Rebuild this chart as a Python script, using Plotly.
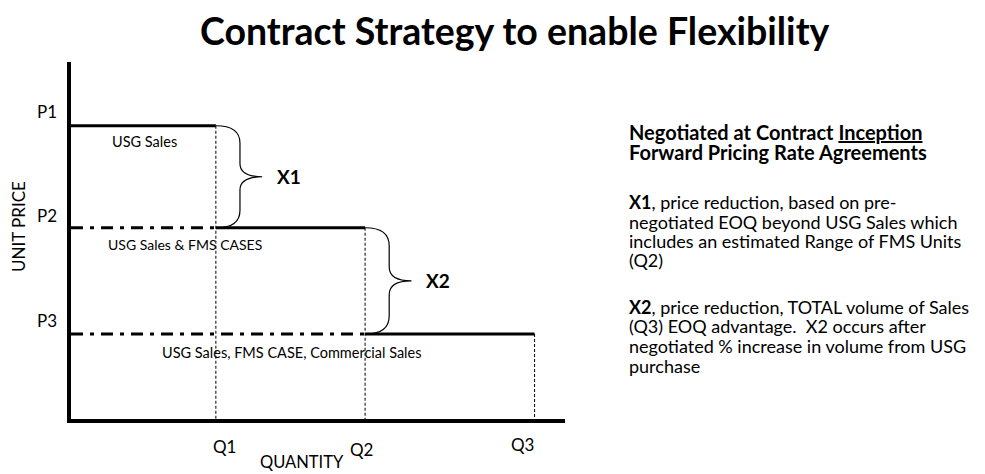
import plotly.graph_objects as go

# ---------------- data ----------------
quantities = [1.0, 2.03, 3.2]          # Q1, Q2, Q3
prices = [3.45, 2.25, 1.0]             # P1, P2, P3
q_labels = ["Q1", "Q2", "Q3"]
p_labels = ["P1", "P2", "P3"]
segment_labels = ["USG Sales", "USG Sales & FMS CASES",
                  "USG Sales, FMS CASE, Commercial Sales"]
brace_labels = ["X1", "X2"]
title_text = "Contract Strategy to enable Flexibility"
x_title = "QUANTITY"
y_title = "UNIT PRICE"
heading_lines = ["<b>Negotiated at Contract <u>Inception</u></b>",
                 "<b>Forward Pricing Rate Agreements</b>"]
x1_lines = ["<b>X1</b>, price reduction, based on pre-",
            "negotiated EOQ beyond USG Sales which",
            "includes an estimated Range of FMS Units",
            "(Q2)"]
x2_lines = ["<b>X2</b>, price reduction, TOTAL volume of Sales",
            "(Q3) EOQ advantage.  X2 occurs after",
            "negotiated % increase in volume from USG",
            "purchase"]

# ---------------- layout geometry ----------------
W, H = 985, 474
L, R, T, B = 71, 420, 62, 55
PW, PH = W - L - R, H - T - B
X_MAX, Y_MAX = 3.41, 4.2
FONT = "Lato"


def px_x(px):
    return (px - L) / PW


def px_y(py):
    return (H - B - py) / PH


fig = go.Figure()

for i, (q, p) in enumerate(zip(quantities, prices)):
    q0 = 0 if i == 0 else quantities[i - 1]
    # solid price step
    fig.add_trace(go.Scatter(x=[q0, q], y=[p, p], mode="lines",
                             line=dict(color="black", width=3), hoverinfo="skip"))
    # dash-dot extension back to the price axis
    if i > 0:
        fig.add_trace(go.Scatter(x=[0, q0], y=[p, p], mode="lines",
                                 line=dict(color="black", width=3, dash="12px,7px,4px,7px"),
                                 hoverinfo="skip"))
    # dotted drop to the quantity axis
    fig.add_trace(go.Scatter(x=[q, q], y=[p, 0], mode="lines",
                             line=dict(color="black", width=1, dash="3px,2px"),
                             hoverinfo="skip"))

# braces between price levels
BRACE_W = 0.32
shapes = []
for i in range(2):
    x0 = quantities[i]
    yt, yb = prices[i], prices[i + 1]
    h = yt - yb
    ym = (yt + yb) / 2
    xm = x0 + BRACE_W * 0.52
    xc = x0 + BRACE_W
    path = (f"M {x0},{yt} Q {xm},{yt} {xm},{yt - h * 0.17} "
            f"L {xm},{ym + h * 0.13} Q {xm},{ym} {xc},{ym} "
            f"Q {xm},{ym} {xm},{ym - h * 0.13} "
            f"L {xm},{yb + h * 0.17} Q {xm},{yb} {x0},{yb}")
    shapes.append(dict(type="path", path=path, xref="x", yref="y",
                       line=dict(color="black", width=1.2)))

annotations = []
# price labels
for lab, p, ys in zip(p_labels, prices, [14, 12, 14]):
    annotations.append(dict(x=0, y=p, xref="x", yref="y", text=lab, showarrow=False,
                            xanchor="center", yanchor="middle", xshift=-24, yshift=ys,
                            font=dict(family=FONT, size=17, color="black")))
# quantity labels
for lab, q, xs, ys in zip(q_labels, quantities, [9, -4, -12], [-27, -30, -25]):
    annotations.append(dict(x=q, y=0, xref="x", yref="y", text=lab, showarrow=False,
                            xanchor="center", yanchor="middle", xshift=xs, yshift=ys,
                            font=dict(family=FONT, size=17, color="black")))
# segment labels
for lab, p, xs, fs, ys in zip(segment_labels, prices, [39, 35, 89], [14.5, 14, 14.5],
                              [-16, -17, -18]):
    annotations.append(dict(x=0, y=p, xref="x", yref="y", text=lab, showarrow=False,
                            xanchor="left", yanchor="middle", xshift=xs, yshift=ys,
                            font=dict(family=FONT, size=fs, color="black")))
# brace labels
for i, lab in enumerate(brace_labels):
    annotations.append(dict(x=quantities[i] + BRACE_W, y=(prices[i] + prices[i + 1]) / 2,
                            xref="x", yref="y", text=f"<b>{lab}</b>", showarrow=False,
                            xanchor="left", yanchor="middle", xshift=13,
                            font=dict(family=FONT, size=19, color="black")))
# axis titles
annotations.append(dict(x=px_x(302), y=px_y(462), xref="paper", yref="paper", text=x_title,
                        showarrow=False, xanchor="center", yanchor="middle",
                        font=dict(family=FONT, size=16.5, color="black")))
annotations.append(dict(x=px_x(18), y=px_y(227), xref="paper", yref="paper", text=y_title,
                        showarrow=False, xanchor="center", yanchor="middle", textangle=-90,
                        font=dict(family=FONT, size=17, color="black")))
# title
annotations.append(dict(x=px_x(515), y=px_y(30), xref="paper", yref="paper",
                        text=f"<b>{title_text}</b>", showarrow=False,
                        xanchor="center", yanchor="middle",
                        font=dict(family=FONT, size=37.5, color="black")))
# right-hand text block
for lines, ys, fs in [(heading_lines, [132, 152], 20),
                      (x1_lines, [202, 222, 241, 260], 18),
                      (x2_lines, [307, 326, 346, 366], 18)]:
    for ln, y in zip(lines, ys):
        annotations.append(dict(x=px_x(627), y=px_y(y), xref="paper", yref="paper",
                                text=ln, showarrow=False, xanchor="left", yanchor="middle",
                                font=dict(family=FONT, size=fs, color="black")))

fig.update_layout(
    width=W, height=H,
    margin=dict(l=L, r=R, t=T, b=B, pad=0),
    paper_bgcolor="white", plot_bgcolor="white",
    showlegend=False,
    shapes=shapes, annotations=annotations,
    xaxis=dict(range=[0, X_MAX], showgrid=False, zeroline=False, showticklabels=False,
               ticks="", showline=True, linecolor="black", linewidth=4, fixedrange=True),
    yaxis=dict(range=[0, Y_MAX], showgrid=False, zeroline=False, showticklabels=False,
               ticks="", showline=True, linecolor="black", linewidth=4, fixedrange=True),
)

fig.write_html("out.html", config={"displayModeBar": False},
               post_script="document.body.style.margin='0';document.body.style.overflow='hidden';")
